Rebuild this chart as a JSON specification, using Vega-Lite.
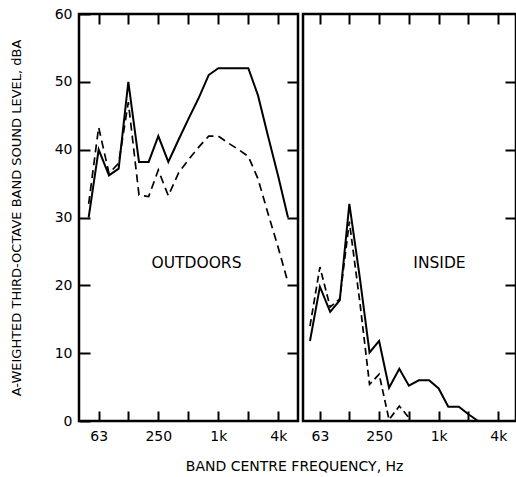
{
  "$schema": "https://vega.github.io/schema/vega-lite/v6.json",
  "padding": {"left": 8, "top": 5, "right": 4, "bottom": 5},
  "background": "white",
  "config": {
    "font": "DejaVu Sans",
    "view": {"stroke": "black", "strokeWidth": 2.5},
    "axis": {"domain": false, "grid": false, "labelColor": "black", "labelFont": "DejaVu Sans", "labelFontSize": 14, "titleColor": "black", "titleFont": "DejaVu Sans", "titleFontWeight": "normal"},
    "concat": {"spacing": 0}
  },
  "title": {"text": "BAND CENTRE FREQUENCY, Hz", "orient": "bottom", "anchor": "middle", "fontSize": 14, "fontWeight": "normal", "font": "DejaVu Sans", "color": "black", "offset": 16, "dx": 31},
  "datasets": {
    "spectra": [
      {"panel": "OUTDOORS", "series": "solid", "freq": 50, "level": 30},
      {"panel": "OUTDOORS", "series": "solid", "freq": 63, "level": 40},
      {"panel": "OUTDOORS", "series": "solid", "freq": 80, "level": 36.2},
      {"panel": "OUTDOORS", "series": "solid", "freq": 100, "level": 37.2},
      {"panel": "OUTDOORS", "series": "solid", "freq": 125, "level": 50},
      {"panel": "OUTDOORS", "series": "solid", "freq": 160, "level": 38.2},
      {"panel": "OUTDOORS", "series": "solid", "freq": 200, "level": 38.2},
      {"panel": "OUTDOORS", "series": "solid", "freq": 250, "level": 42},
      {"panel": "OUTDOORS", "series": "solid", "freq": 315, "level": 38.2},
      {"panel": "OUTDOORS", "series": "solid", "freq": 400, "level": 41.5},
      {"panel": "OUTDOORS", "series": "solid", "freq": 500, "level": 44.5},
      {"panel": "OUTDOORS", "series": "solid", "freq": 630, "level": 47.5},
      {"panel": "OUTDOORS", "series": "solid", "freq": 800, "level": 51},
      {"panel": "OUTDOORS", "series": "solid", "freq": 1000, "level": 52},
      {"panel": "OUTDOORS", "series": "solid", "freq": 1250, "level": 52},
      {"panel": "OUTDOORS", "series": "solid", "freq": 1600, "level": 52},
      {"panel": "OUTDOORS", "series": "solid", "freq": 2000, "level": 52},
      {"panel": "OUTDOORS", "series": "solid", "freq": 2500, "level": 48},
      {"panel": "OUTDOORS", "series": "solid", "freq": 3150, "level": 42},
      {"panel": "OUTDOORS", "series": "solid", "freq": 4000, "level": 36},
      {"panel": "OUTDOORS", "series": "solid", "freq": 5000, "level": 30},
      {"panel": "OUTDOORS", "series": "dashed", "freq": 50, "level": 32},
      {"panel": "OUTDOORS", "series": "dashed", "freq": 63, "level": 43.3},
      {"panel": "OUTDOORS", "series": "dashed", "freq": 80, "level": 36.5},
      {"panel": "OUTDOORS", "series": "dashed", "freq": 100, "level": 38},
      {"panel": "OUTDOORS", "series": "dashed", "freq": 125, "level": 47},
      {"panel": "OUTDOORS", "series": "dashed", "freq": 160, "level": 33.3},
      {"panel": "OUTDOORS", "series": "dashed", "freq": 200, "level": 33.1},
      {"panel": "OUTDOORS", "series": "dashed", "freq": 250, "level": 37},
      {"panel": "OUTDOORS", "series": "dashed", "freq": 315, "level": 33.2},
      {"panel": "OUTDOORS", "series": "dashed", "freq": 400, "level": 36.6},
      {"panel": "OUTDOORS", "series": "dashed", "freq": 500, "level": 38.5},
      {"panel": "OUTDOORS", "series": "dashed", "freq": 630, "level": 40.3},
      {"panel": "OUTDOORS", "series": "dashed", "freq": 800, "level": 42},
      {"panel": "OUTDOORS", "series": "dashed", "freq": 1000, "level": 42},
      {"panel": "OUTDOORS", "series": "dashed", "freq": 1250, "level": 41},
      {"panel": "OUTDOORS", "series": "dashed", "freq": 1600, "level": 40},
      {"panel": "OUTDOORS", "series": "dashed", "freq": 2000, "level": 39},
      {"panel": "OUTDOORS", "series": "dashed", "freq": 2500, "level": 35.7},
      {"panel": "OUTDOORS", "series": "dashed", "freq": 3150, "level": 30.6},
      {"panel": "OUTDOORS", "series": "dashed", "freq": 4000, "level": 25.5},
      {"panel": "OUTDOORS", "series": "dashed", "freq": 5000, "level": 20.4},
      {"panel": "INSIDE", "series": "solid", "freq": 50, "level": 11.8},
      {"panel": "INSIDE", "series": "solid", "freq": 63, "level": 19.8},
      {"panel": "INSIDE", "series": "solid", "freq": 80, "level": 16.1},
      {"panel": "INSIDE", "series": "solid", "freq": 100, "level": 17.8},
      {"panel": "INSIDE", "series": "solid", "freq": 125, "level": 32},
      {"panel": "INSIDE", "series": "solid", "freq": 160, "level": 21},
      {"panel": "INSIDE", "series": "solid", "freq": 200, "level": 10.1},
      {"panel": "INSIDE", "series": "solid", "freq": 250, "level": 11.8},
      {"panel": "INSIDE", "series": "solid", "freq": 315, "level": 4.9},
      {"panel": "INSIDE", "series": "solid", "freq": 400, "level": 7.7},
      {"panel": "INSIDE", "series": "solid", "freq": 500, "level": 5.2},
      {"panel": "INSIDE", "series": "solid", "freq": 630, "level": 6},
      {"panel": "INSIDE", "series": "solid", "freq": 800, "level": 6},
      {"panel": "INSIDE", "series": "solid", "freq": 1000, "level": 4.8},
      {"panel": "INSIDE", "series": "solid", "freq": 1250, "level": 2.1},
      {"panel": "INSIDE", "series": "solid", "freq": 1600, "level": 2.1},
      {"panel": "INSIDE", "series": "solid", "freq": 2000, "level": 1},
      {"panel": "INSIDE", "series": "solid", "freq": 2500, "level": 0},
      {"panel": "INSIDE", "series": "dashed", "freq": 50, "level": 14},
      {"panel": "INSIDE", "series": "dashed", "freq": 63, "level": 22.7},
      {"panel": "INSIDE", "series": "dashed", "freq": 80, "level": 16.8},
      {"panel": "INSIDE", "series": "dashed", "freq": 100, "level": 18},
      {"panel": "INSIDE", "series": "dashed", "freq": 125, "level": 29.4},
      {"panel": "INSIDE", "series": "dashed", "freq": 160, "level": 17.4},
      {"panel": "INSIDE", "series": "dashed", "freq": 200, "level": 5.4},
      {"panel": "INSIDE", "series": "dashed", "freq": 250, "level": 6.9},
      {"panel": "INSIDE", "series": "dashed", "freq": 315, "level": 0.2},
      {"panel": "INSIDE", "series": "dashed", "freq": 400, "level": 2.2},
      {"panel": "INSIDE", "series": "dashed", "freq": 500, "level": 0.5}
    ]
  },
  "hconcat": [
    {
      "width": 219,
      "height": 407,
      "title": {"text": "OUTDOORS", "orient": "bottom", "anchor": "middle", "frame": "group", "offset": -187, "dx": 8, "fontSize": 15.5, "fontWeight": "normal", "font": "DejaVu Sans", "color": "black"},
      "layer": [
        {
          "data": {"name": "spectra"},
          "transform": [{"filter": "datum.panel === 'OUTDOORS' && datum.series === 'solid'"}],
          "mark": {"type": "line", "color": "black", "strokeWidth": 2},
          "encoding": {
            "x": {"field": "freq", "type": "quantitative", "scale": {"type": "log", "domain": [40, 6300], "nice": false},
                  "axis": {"orient": "bottom", "values": [63, 125, 250, 500, 1000, 2000, 4000], "tickColor": "#000000", "tickWidth": 2, "offset": -10, "tickSize": 10, "labelPadding": 8, "title": null,
                           "labelExpr": "datum.value == 63 ? '63' : datum.value == 250 ? '250' : datum.value == 1000 ? '1k' : datum.value == 4000 ? '4k' : ''"}},
            "y": {"field": "level", "type": "quantitative", "scale": {"domain": [0, 60], "nice": false},
                  "axis": {"orient": "left", "values": [0, 10, 20, 30, 40, 50, 60], "tickColor": "#000000", "tickWidth": 2, "offset": -11, "tickSize": 11, "labelPadding": 7, "title": "A-WEIGHTED THIRD-OCTAVE BAND SOUND LEVEL, dBA", "titleFontSize": 13, "titlePadding": 31}}
          }
        },
        {
          "data": {"name": "spectra"},
          "transform": [{"filter": "datum.panel === 'OUTDOORS' && datum.series === 'dashed'"}],
          "mark": {"type": "line", "color": "black", "strokeWidth": 1.7, "strokeDash": [8, 5]},
          "encoding": {
            "x": {"field": "freq", "type": "quantitative", "axis": {"orient": "top", "values": [63, 125, 250, 500, 1000, 2000, 4000], "tickColor": "#000000", "tickWidth": 2, "offset": -10, "tickSize": 10, "labels": false, "title": null}},
            "y": {"field": "level", "type": "quantitative", "axis": {"orient": "right", "values": [10, 20, 30, 40, 50], "tickColor": "#000000", "tickWidth": 2, "offset": -11, "tickSize": 11, "labels": false, "title": null}}
          }
        }
      ]
    },
    {
      "width": 213,
      "height": 407,
      "title": {"text": "INSIDE", "orient": "bottom", "anchor": "middle", "frame": "group", "offset": -187, "dx": 30, "fontSize": 15.5, "fontWeight": "normal", "font": "DejaVu Sans", "color": "black"},
      "layer": [
        {
          "data": {"name": "spectra"},
          "transform": [{"filter": "datum.panel === 'INSIDE' && datum.series === 'solid'"}],
          "mark": {"type": "line", "color": "black", "strokeWidth": 2},
          "encoding": {
            "x": {"field": "freq", "type": "quantitative", "scale": {"type": "log", "domain": [42.5, 6050], "nice": false},
                  "axis": {"orient": "bottom", "values": [63, 125, 250, 500, 1000, 2000, 4000], "tickColor": "#000000", "tickWidth": 2, "offset": -10, "tickSize": 10, "labelPadding": 8, "title": null,
                           "labelExpr": "datum.value == 63 ? '63' : datum.value == 250 ? '250' : datum.value == 1000 ? '1k' : datum.value == 4000 ? '4k' : ''"}},
            "y": {"field": "level", "type": "quantitative", "scale": {"domain": [0, 60], "nice": false},
                  "axis": {"orient": "right", "values": [10, 20, 30, 40, 50], "tickColor": "#000000", "tickWidth": 2, "offset": -11, "tickSize": 11, "labels": false, "title": null}}
          }
        },
        {
          "data": {"name": "spectra"},
          "transform": [{"filter": "datum.panel === 'INSIDE' && datum.series === 'dashed'"}],
          "mark": {"type": "line", "color": "black", "strokeWidth": 1.7, "strokeDash": [7, 4]},
          "encoding": {
            "x": {"field": "freq", "type": "quantitative", "axis": {"orient": "top", "values": [63, 125, 250, 500, 1000, 2000, 4000], "tickColor": "#000000", "tickWidth": 2, "offset": -10, "tickSize": 10, "labels": false, "title": null}},
            "y": {"field": "level", "type": "quantitative", "axis": {"orient": "right", "values": [10, 20, 30, 40, 50], "tickColor": "#000000", "tickWidth": 2, "offset": -11, "tickSize": 11, "labels": false, "title": null}}
          }
        }
      ]
    }
  ]
}
